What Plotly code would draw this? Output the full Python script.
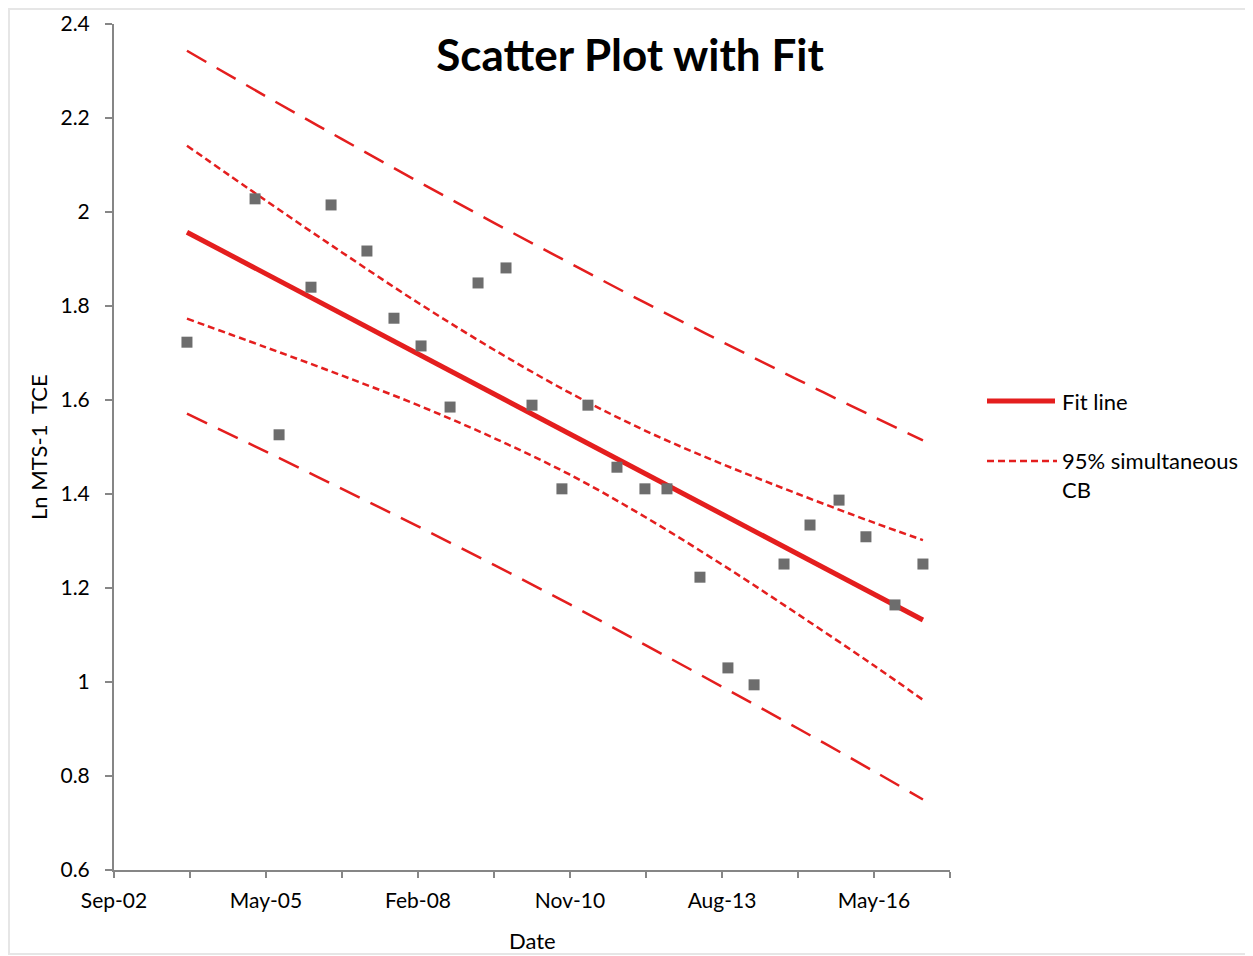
import pandas as pd
import plotly.graph_objects as go

# ---- data (dates as Excel serial day numbers) ----
date_serial = [37980, 38428, 38586, 38796, 38928, 39164, 39342, 39520, 39711, 39895,
               40079, 40250, 40447, 40618, 40809, 40993, 41138, 41355, 41539, 41711,
               41908, 42079, 42270, 42447, 42638, 42822]
ln_tce = [1.723, 2.028, 1.526, 1.840, 2.015, 1.917, 1.774, 1.715, 1.585, 1.849,
          1.881, 1.589, 1.411, 1.589, 1.457, 1.411, 1.411, 1.223, 1.030, 0.994,
          1.251, 1.334, 1.387, 1.309, 1.164, 1.251]

fit_serial = [37980, 42822]
fit_value = [1.957, 1.132]

band_serial = [37980, 38500, 39000, 39500, 40000, 40500, 41000, 41500, 42000, 42500, 42822]
cb_upper = [2.141, 2.024, 1.914, 1.807, 1.707, 1.615, 1.534, 1.464, 1.400, 1.339, 1.302]
cb_lower = [1.773, 1.712, 1.652, 1.589, 1.519, 1.441, 1.350, 1.250, 1.144, 1.035, 0.962]
pi_upper = [2.343, 2.246, 2.155, 2.065, 1.977, 1.891, 1.806, 1.724, 1.643, 1.564, 1.514]
pi_lower = [1.571, 1.490, 1.411, 1.331, 1.249, 1.165, 1.078, 0.990, 0.901, 0.810, 0.750]

tick_serial = [37500, 38000, 38500, 39000, 39500, 40000, 40500, 41000, 41500, 42000, 42500, 43000]
tick_labels = ["Sep-02", "", "May-05", "", "Feb-08", "", "Nov-10", "", "Aug-13", "", "May-16", ""]
x_range_serial = [37500, 43000]

y_ticks = [0.6, 0.8, 1.0, 1.2, 1.4, 1.6, 1.8, 2.0, 2.2, 2.4]
y_labels = ["0.6", "0.8", "1", "1.2", "1.4", "1.6", "1.8", "2", "2.2", "2.4"]


def xl(serials):
    return pd.to_datetime(pd.Series(serials), unit="D", origin="1899-12-30")


RED = "#e41e1e"
GRAY = "#868686"
FONT = "Lato"

fig = go.Figure()

for yy in (pi_upper, pi_lower):
    fig.add_trace(go.Scatter(x=xl(band_serial), y=yy, mode="lines", line_shape="spline",
                             line=dict(color=RED, width=2.5, dash="22px,12px"),
                             showlegend=False, hoverinfo="skip"))
for yy in (cb_upper, cb_lower):
    fig.add_trace(go.Scatter(x=xl(band_serial), y=yy, mode="lines", line_shape="spline",
                             line=dict(color=RED, width=2.5, dash="7px,4px"),
                             showlegend=False, hoverinfo="skip"))
fig.add_trace(go.Scatter(x=xl(fit_serial), y=fit_value, mode="lines",
                         line=dict(color=RED, width=5), showlegend=False))
fig.add_trace(go.Scatter(x=xl(date_serial), y=ln_tce, mode="markers",
                         marker=dict(symbol="square", size=11, color="#6d6d6d", line=dict(width=0)),
                         showlegend=False))

# page has an 8px body margin: figure coordinates = page coordinates - 8
OFF = 8
W, H = 1253 - OFF, 956 - OFF
L, R, T, B = 114, 950, 24, 870   # plot area in page pixels


def px(x):
    return (x - L) / (R - L)


def py(y):
    return (B - y) / (B - T)


shapes = [
    dict(type="rect", xref="paper", yref="paper", x0=px(9), x1=px(1251), y0=py(954), y1=py(9),
         line=dict(color="#e6e6e6", width=2), fillcolor="rgba(0,0,0,0)", layer="below"),
    dict(type="line", xref="paper", yref="paper", x0=px(987), x1=px(1055), y0=py(401), y1=py(401),
         line=dict(color=RED, width=5)),
    dict(type="line", xref="paper", yref="paper", x0=px(987), x1=px(1057), y0=py(461), y1=py(461),
         line=dict(color=RED, width=2.5, dash="7px,4px")),
]

annotations = [
    dict(text="Fit line", xref="paper", yref="paper", x=px(1060), y=py(401), xanchor="left",
         yanchor="middle", showarrow=False, font=dict(family=FONT, size=22, color="black")),
    dict(text="95% simultaneous<br>CB", xref="paper", yref="paper", x=px(1060), y=py(475),
         xanchor="left", yanchor="middle", align="left", showarrow=False,
         font=dict(family=FONT, size=22, color="black")),
    dict(text="Ln MTS-1\u00a0 TCE", xref="paper", yref="paper", x=px(38), y=py(447), textangle=-90,
         xanchor="center", yanchor="middle", showarrow=False,
         font=dict(family=FONT, size=22, color="black")),
    dict(text="Date", xref="paper", yref="paper", x=px(532), y=py(940), xanchor="center",
         yanchor="middle", showarrow=False, font=dict(family=FONT, size=22, color="black")),
]

fig.update_layout(
    width=W, height=H,
    margin=dict(l=L - OFF, r=1253 - R, t=T - OFF, b=956 - B, autoexpand=False),
    paper_bgcolor="white", plot_bgcolor="white",
    title=dict(text="<b>Scatter Plot with Fit</b>", xref="container", yref="container",
               x=(630 - OFF) / W, y=1 - (56 - OFF) / H, xanchor="center", yanchor="middle",
               font=dict(family=FONT, size=44, color="black"), automargin=False),
    xaxis=dict(type="date", range=xl(x_range_serial).tolist(), tickmode="array",
               tickvals=xl(tick_serial).tolist(), ticktext=tick_labels, automargin=False,
               ticks="outside", ticklen=6, tickwidth=2, tickcolor=GRAY,
               showline=True, linecolor=GRAY, linewidth=2, showgrid=False, zeroline=False,
               tickfont=dict(family=FONT, size=21, color="black"), ticklabelstandoff=5),
    yaxis=dict(range=[0.6, 2.4], tickmode="array", tickvals=y_ticks, ticktext=y_labels,
               automargin=False,
               ticks="outside", ticklen=7, tickwidth=2, tickcolor=GRAY,
               showline=True, linecolor=GRAY, linewidth=2, showgrid=False, zeroline=False,
               tickfont=dict(family=FONT, size=21, color="black"), ticklabelstandoff=11),
    shapes=shapes,
    annotations=annotations,
    showlegend=False,
)

fig.write_html("out.html")
